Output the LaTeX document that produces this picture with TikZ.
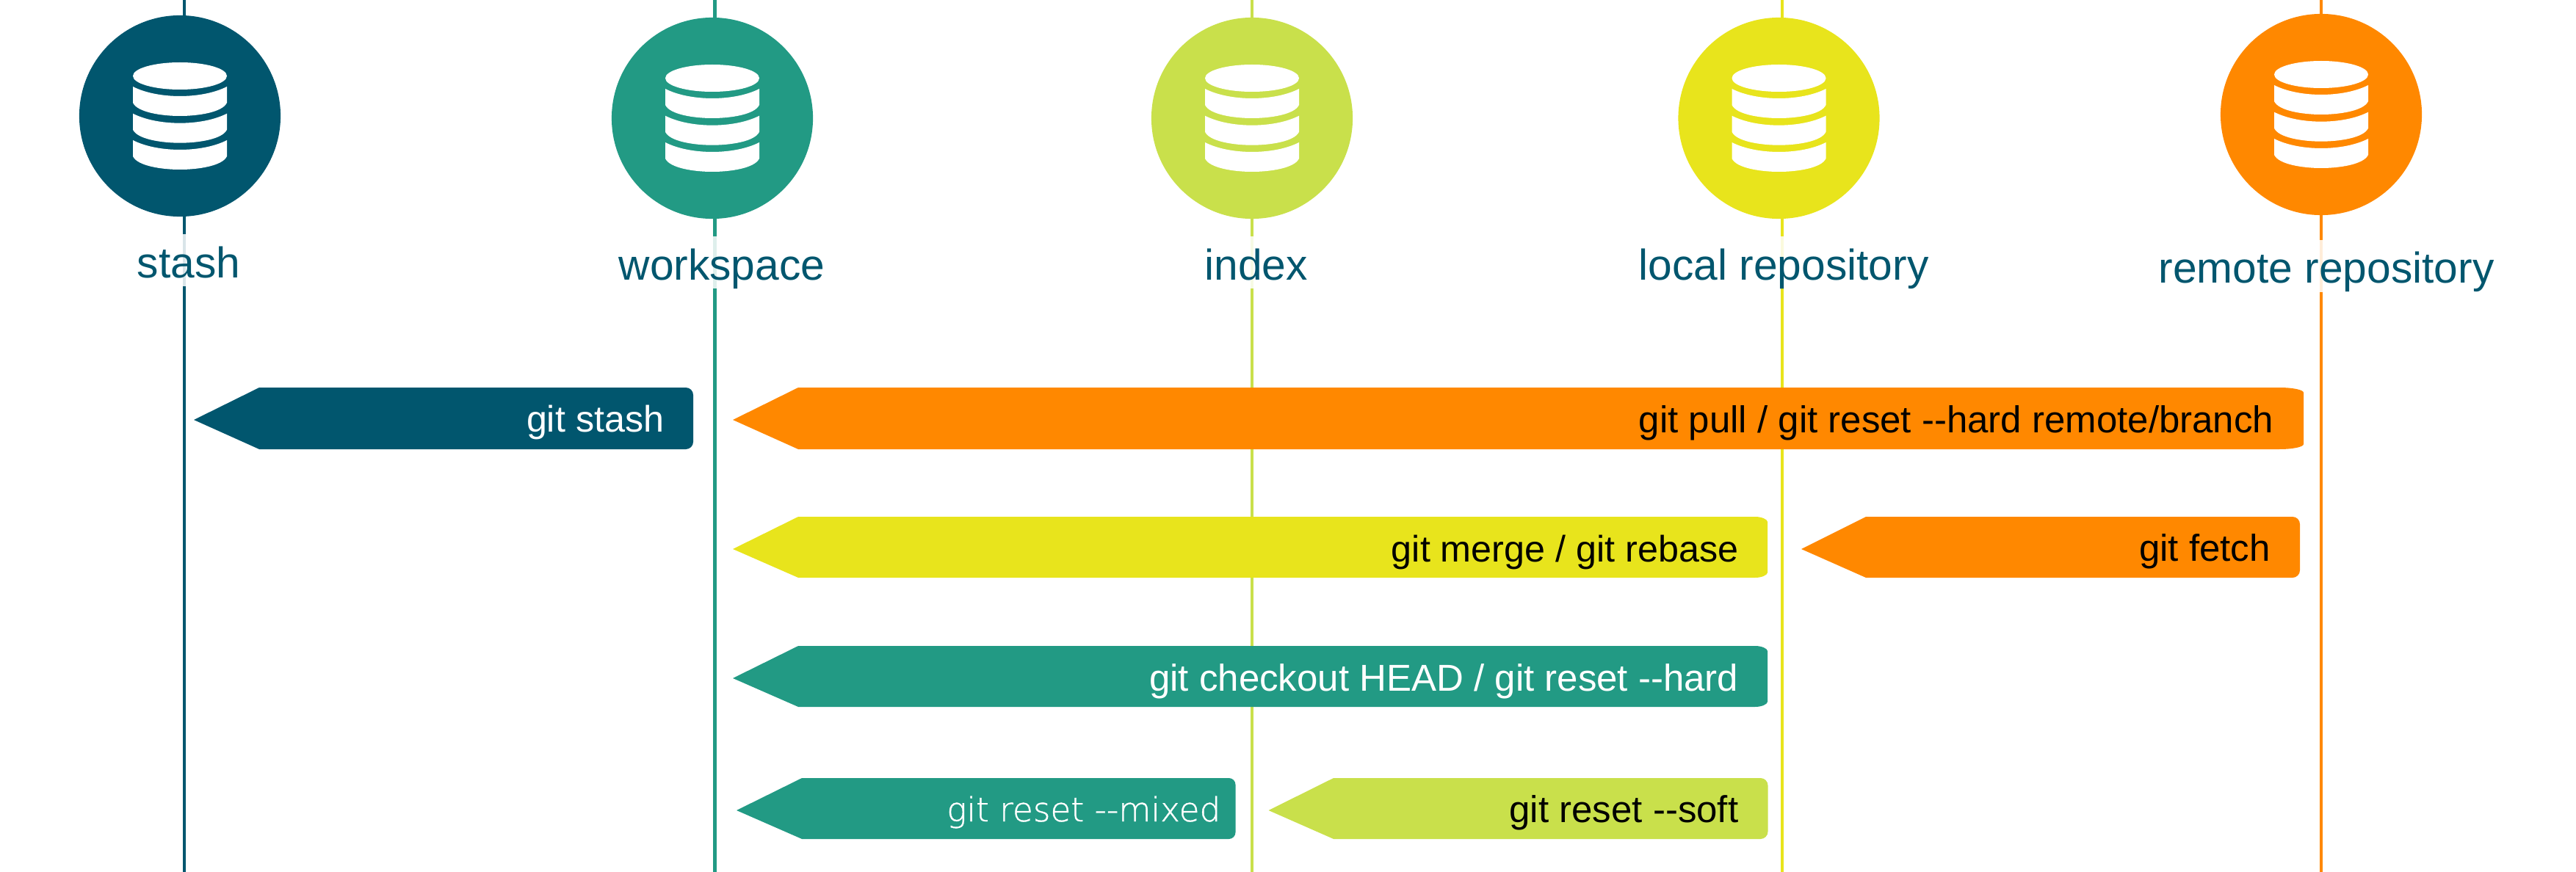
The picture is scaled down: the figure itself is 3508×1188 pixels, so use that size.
\documentclass[tikz,border=0pt]{standalone}
\usepackage{fontspec}
\setmainfont{Liberation Sans}
\newfontfamily\lightfont[FakeBold=0.8]{DejaVu Sans ExtraLight}
\usepackage{xcolor}
\usepackage{tikz}
\usetikzlibrary{positioning}
\definecolor{stashblue}{HTML}{01566E}
\definecolor{workgreen}{HTML}{229A84}
\definecolor{indexlime}{HTML}{C9E04B}
\definecolor{localyellow}{HTML}{E8E41C}
\definecolor{remoteorange}{HTML}{FF8800}
\tikzstyle{store} = [circle, minimum size=2.74cm, inner sep=0pt]
\tikzstyle{lane} = [line width=1.15pt]
\tikzstyle{title} = [anchor=base, text=stashblue, font=\fontsize{16.7}{18}\selectfont, fill=white, fill opacity=0.85, text opacity=1, inner sep=0pt, text height=0.59cm, text depth=0.115cm]
\tikzstyle{cmd} = [anchor=base east, font=\fontsize{14.5}{16}\selectfont, inner sep=0pt]
\tikzset{dbstack/.pic={
  \fill[white] (0,-54.5) ellipse (64 and 18.5);
  \foreach \s in {0,36.7,73} {
    \fill[white] (-64,-40+\s) .. controls (-30,-22.7+\s) and (30,-22.7+\s) .. (64,-40+\s)
      -- (64,-18+\s) .. controls (58,-5+\s) and (25,\s) .. (0,\s)
      .. controls (-25,\s) and (-58,-5+\s) .. (-64,-18+\s) -- cycle;
  }
}}

\begin{document}
\begin{tikzpicture}[x=0.01cm,y=-0.01cm]
\useasboundingbox (0,0) rectangle (3508,1188);

% lanes
\coordinate (stashtop) at (251,0);
\coordinate (stashend) at (251,1188);
\coordinate (worktop) at (973.5,0);
\coordinate (workend) at (973.5,1188);
\coordinate (indextop) at (1705,0);
\coordinate (indexend) at (1705,1188);
\coordinate (localtop) at (2427,0);
\coordinate (localend) at (2427,1188);
\coordinate (remotetop) at (3161,0);
\coordinate (remoteend) at (3161,1188);
\draw[lane,stashblue] (stashtop) -- (stashend);
\draw[lane,workgreen] (worktop) -- (workend);
\draw[lane,indexlime] (indextop) -- (indexend);
\draw[lane,localyellow] (localtop) -- (localend);
\draw[lane,remoteorange] (remotetop) -- (remoteend);

% arrows
\fill[stashblue] (264,572) -- (353,528) [rounded corners=0.1cm] -- (944,528) -- (944,612) [sharp corners] -- (353,612) -- cycle;
\fill[remoteorange] (998,572) -- (1087,528) -- (3104,528) .. controls (3122,528) and (3137,531) .. (3137,535) -- (3137,605) .. controls (3137,609) and (3122,612) .. (3104,612) -- (1087,612) -- cycle;
\fill[localyellow] (998,748) -- (1087,704) -- (2390,704) .. controls (2400,704) and (2407,708) .. (2407,711) -- (2407,780) .. controls (2407,783) and (2400,787) .. (2390,787) -- (1087,787) -- cycle;
\fill[remoteorange] (2453,748) -- (2541,704) [rounded corners=0.1cm] -- (3132,704) -- (3132,787) [sharp corners] -- (2541,787) -- cycle;
\fill[workgreen] (998,924) -- (1087,880) -- (2390,880) .. controls (2400,880) and (2407,884) .. (2407,887) -- (2407,956) .. controls (2407,959) and (2400,963) .. (2390,963) -- (1087,963) -- cycle;
\fill[workgreen] (1003,1104) -- (1092,1060) [rounded corners=0.09cm] -- (1682.5,1060) -- (1682.5,1143) [sharp corners] -- (1092,1143) -- cycle;
\fill[indexlime] (1727.5,1104) -- (1816,1060) [rounded corners=0.1cm] -- (2407.5,1060) -- (2407.5,1143) [sharp corners] -- (1816,1143) -- cycle;

\node [cmd,text=white,font=\fontsize{14.3}{16}\selectfont] (stashcmd) at (905,588) {git stash};
\node [cmd] (pullcmd) at (3097,589) {git pull / git reset {-}{-}hard remote/branch};
\node [cmd,font=\fontsize{14.3}{16}\selectfont] (mergecmd) at (2368,765) {git merge / git rebase};
\node [cmd] (fetchcmd) at (3092.5,764) {git fetch};
\node [cmd,text=white] (checkoutcmd) at (2368,941) {git checkout HEAD / git reset {-}{-}hard};
\node [cmd,text=white,font=\lightfont\fontsize{12.9}{16}\selectfont] (mixedcmd) at (1663,1119) {git reset {-}{-}mixed};
\node [cmd] (softcmd) at (2368,1120) {git reset {-}{-}soft};

% stores
\node [store,fill=stashblue] (stash) at (245,158) {};
\node [store,fill=workgreen] (work) at (970,161) {};
\node [store,fill=indexlime] (index) at (1705,161) {};
\node [store,fill=localyellow] (local) at (2422.5,161) {};
\node [store,fill=remoteorange] (remote) at (3161,156) {};
\pic at (stash) {dbstack};
\pic at (work) {dbstack};
\pic at (index) {dbstack};
\pic at (local) {dbstack};
\pic at (remote) {dbstack};

\node [title] (stashname) at (257,378) {stash};
\node [title] (workname) at (983,381) {workspace};
\node [title] (indexname) at (1710.5,381) {index};
\node [title] (localname) at (2429,381) {local repository};
\node [title] (remotename) at (3168,386) {remote repository};

\end{tikzpicture}
\end{document}
